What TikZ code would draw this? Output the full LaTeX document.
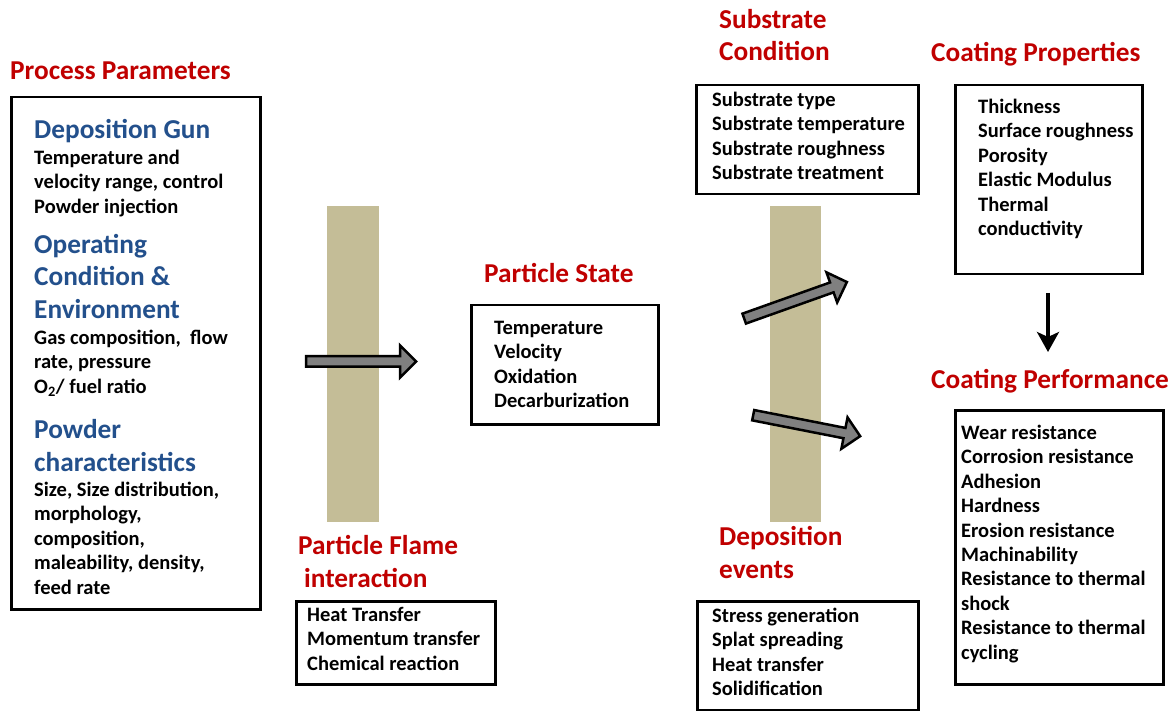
\documentclass[tikz,border=0pt]{standalone}
\usepackage{fontspec}
\setmainfont{Carlito}
\usetikzlibrary{arrows.meta}
\lineskiplimit=-100pt
\definecolor{hdred}{RGB}{192,0,0}
\definecolor{hdblue}{RGB}{35,80,140}
\definecolor{bartan}{RGB}{196,189,151}
\definecolor{arrgray}{RGB}{128,128,128}
\tikzset{
  body/.style={anchor=base west, inner sep=0pt, align=left, yshift=-1.5pt, font=\bfseries\fontsize{20.5}{24.4}\selectfont},
  redhead/.style={anchor=base west, inner sep=0pt, align=left, yshift=-2.5pt, text=hdred, font=\bfseries\fontsize{27.3}{32.5}\selectfont},
  bluehead/.style={redhead, text=hdblue},
  frame/.style={draw=black, line width=2.5pt, inner sep=0pt, anchor=north west},
  bar/.style={fill=bartan, draw=none, inner sep=0pt, anchor=north west},
  blockarrow/.style={draw=black, fill=arrgray, line width=2.5pt, line join=miter},
}
\newcommand\blkarr[4]{%
  \begin{scope}[shift={(#1,#2)},rotate=#3]
    \draw[blockarrow] (0,-5.25) -- ({#4-16},-5.25) -- ({#4-16},-16) -- (#4,0)
      -- ({#4-16},16) -- ({#4-16},5.25) -- (0,5.25) -- cycle;
  \end{scope}}
\begin{document}
\begin{tikzpicture}[x=1pt,y=-1pt]
\fill[white] (0,0) rectangle (1176,711);
\useasboundingbox (0,0) rectangle (1176,711);

% bars
\node[bar, minimum width=52, minimum height=316] (bar1) at (327,206) {};
\node[bar, minimum width=51, minimum height=316] (bar2) at (770,206) {};

% block arrows
\blkarr{306.2}{361.5}{0}{110}
\blkarr{744.2}{318.6}{19.6}{109}
\blkarr{753.2}{415.2}{-11.1}{109}

% (multi-line nodes are placed at the baseline of their last line)
% Process parameters
\node[redhead] (ppt) at (10,77) {Process Parameters};
\node[frame, minimum width=249, minimum height=512] (ppbox) at (10,96) {};
\node[bluehead] (dg) at (34,136) {Deposition Gun};
\node[body] (dgt) at (34,211.8) {Temperature and\\velocity range, control\\Powder injection};
\node[bluehead] (oc) at (34,316) {Operating\\Condition \&\\Environment};
\node[body] (oct) at (34,391.8) {Gas composition,\ \ flow\\rate, pressure\\O\textsubscript{2}/ fuel ratio};
\node[bluehead] (pc) at (34,468.5) {Powder\\characteristics};
\node[body] (pct) at (34,592.6) {Size, Size distribution,\\morphology,\\composition,\\maleability,\ density,\\feed rate};

% Particle flame interaction
\node[redhead] (pf) at (298,584.5) {Particle Flame\\\hspace*{6pt}interaction};
\node[frame, minimum width=199, minimum height=83] (pfbox) at (295,600) {};
\node[body] (pft) at (307,668.8) {Heat Transfer\\Momentum transfer\\Chemical reaction};

% Particle state
\node[redhead] (ps) at (484,280) {Particle State};
\node[frame, minimum width=187, minimum height=119] (psbox) at (470,304) {};
\node[body] (pst) at (494,406.2) {Temperature\\Velocity\\Oxidation\\Decarburization};

% Substrate condition
\node[redhead] (sc) at (719,58.5) {Substrate\\Condition};
\node[frame, minimum width=222, minimum height=109] (scbox) at (695,84) {};
\node[body] (sct) at (712,178.2) {Substrate type\\Substrate temperature\\Substrate roughness\\Substrate treatment};

% Deposition events
\node[redhead] (de) at (719,575.5) {Deposition\\events};
\node[frame, minimum width=221, minimum height=109] (debox) at (696,600) {};
\node[body] (det) at (712,694.2) {Stress generation\\Splat spreading\\Heat transfer\\Solidification};

% Coating properties
\node[redhead] (cp) at (931,59) {Coating Properties};
\node[frame, minimum width=187, minimum height=189] (cpbox) at (954,84) {};
\node[body] (cpt) at (978,234) {Thickness\\Surface roughness\\Porosity\\Elastic Modulus\\Thermal\\conductivity};

% Coating performance
\node[redhead] (cf) at (931,386) {Coating Performance};
\node[frame, minimum width=208, minimum height=274] (cfbox) at (954,409) {};
\node[body] (cft) at (961,657.6) {Wear resistance\\Corrosion\ resistance\\Adhesion\\Hardness\\Erosion\ resistance\\Machinability\\Resistance to thermal\\shock\\Resistance to thermal\\cycling};

% down arrow
\coordinate (dA) at (1048,293);
\coordinate (dB) at (1048,352);
\draw[line width=3.5pt, -{Stealth[length=20pt, width=22pt, inset=5pt]}] (dA) -- (dB);
\end{tikzpicture}
\end{document}
